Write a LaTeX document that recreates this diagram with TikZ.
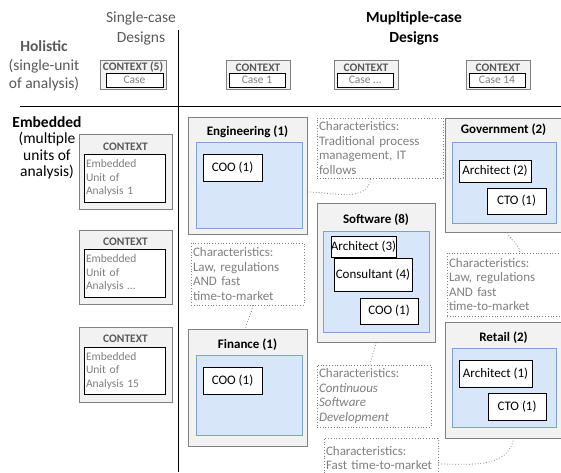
\documentclass[tikz,border=0pt]{standalone}
\usepackage{fontspec}
\setmainfont{Carlito}
\definecolor{ctxgray}{RGB}{242,242,242}
\definecolor{ctxline}{RGB}{128,128,128}
\definecolor{unitblue}{RGB}{216,230,249}
\definecolor{unitline}{RGB}{127,160,214}
\definecolor{notegray}{RGB}{127,127,127}
\definecolor{headgray}{RGB}{89,89,89}
\usetikzlibrary{positioning}

\begin{document}
\begin{tikzpicture}[x=1pt, y=-1pt,
  head/.style={align=center, inner sep=0pt, font=\fontsize{15.5}{20}\selectfont},
  ctxbox/.style={rectangle, draw=ctxline, fill=ctxgray, line width=1pt},
  ctxtag/.style={inner sep=0pt, text=headgray, font=\fontsize{11.5}{12}\selectfont\bfseries},
  casebox/.style={rectangle, draw=black, fill=white, line width=0.8pt, inner sep=0pt,
    text=notegray, font=\fontsize{11.5}{12}\selectfont},
  unitbox/.style={rectangle, draw=black, fill=white, line width=0.8pt, inner sep=2pt,
    align=left, text width=77pt, text=notegray, font=\fontsize{11.5}{13.5}\selectfont},
  sector/.style={rectangle, draw=ctxline, fill=ctxgray, line width=1pt, minimum width=119pt},
  sectitle/.style={inner sep=0pt, font=\fontsize{13}{15}\selectfont\bfseries},
  unitarea/.style={rectangle, draw=unitline, fill=unitblue, line width=0.8pt},
  rolebox/.style={rectangle, draw=black, fill=white, line width=0.8pt, inner sep=0pt,
    font=\fontsize{13}{15}\selectfont},
  note/.style={rectangle, draw=notegray, dotted, line width=0.8pt, inner sep=2pt,
    align=left, text=notegray, font=\fontsize{13}{14.6}\selectfont},
  link/.style={draw=notegray, dotted, line width=0.8pt}
]
\useasboundingbox (0,0) rectangle (561,472);

% axes
\draw[line width=0.9pt] (20,106) -- (561,106);
\draw[line width=0.9pt] (178,30) -- (178,472);

% headings
\node[head, text=headgray] (single) at (141,28) {Single-case\\Designs};
\node[head, font=\fontsize{15.5}{20}\selectfont\bfseries] (multi) at (414,28) {Mupltiple-case\\Designs};
\node[head, text=headgray, font=\fontsize{15.5}{18.5}\selectfont] (holistic) at (44,66)
  {\textbf{Holistic}\\(single-unit\\of analysis)};
\node[head, font=\fontsize{15.5}{16.5}\selectfont] (embedded) at (47,148)
  {\textbf{Embedded}\\(multiple\\units of\\analysis)};

% holistic cases
\node[ctxbox, minimum width=66pt, minimum height=29pt] (ctx5) at (133,74.5) {};
\node[ctxtag] at (133,67.5) {CONTEXT (5)};
\node[casebox, minimum width=57pt, minimum height=14pt] (case5) at (134.5,80) {Case};
\node[ctxbox, minimum width=64pt, minimum height=29pt] (ctx1) at (258,74.5) {};
\node[ctxtag] at (258,67.5) {CONTEXT};
\node[casebox, minimum width=56pt, minimum height=14pt] (case1) at (257,80) {Case 1};
\node[ctxbox, minimum width=64pt, minimum height=29pt] (ctxn) at (366,74.5) {};
\node[ctxtag] at (366,67.5) {CONTEXT};
\node[casebox, minimum width=56pt, minimum height=14pt] (casen) at (365,80) {Case \dots};
\node[ctxbox, minimum width=64pt, minimum height=29pt] (ctx14) at (498,74.5) {};
\node[ctxtag] at (498,67.5) {CONTEXT};
\node[casebox, minimum width=56pt, minimum height=14pt] (case14) at (497,80) {Case 14};

% embedded units
\node[ctxbox, minimum width=93pt, minimum height=75pt] (emb1) at (125.5,171.5) {};
\node[ctxtag] at (125.5,147) {CONTEXT};
\node[unitbox, minimum height=48pt] (unit1) at (124.5,178) {Embedded\\Unit of\\Analysis 1};
\node[ctxbox, minimum width=93pt, minimum height=74pt] (embn) at (125.5,267) {};
\node[ctxtag] at (125.5,242) {CONTEXT};
\node[unitbox, minimum height=48pt] (unitn) at (124.5,273) {Embedded\\Unit of\\Analysis \dots};
\node[ctxbox, minimum width=93pt, minimum height=75pt] (emb15) at (125.5,364.5) {};
\node[ctxtag] at (125.5,339) {CONTEXT};
\node[unitbox, minimum height=47pt] (unit15) at (124.5,370.5) {Embedded\\Unit of\\Analysis 15};

% engineering
\node[sector, minimum height=117pt] (eng) at (247.5,175.5) {};
\node[sectitle] at (247.5,132) {Engineering (1)};
\node[unitarea, minimum width=106pt, minimum height=86pt] (engarea) at (249,185) {};
\node[rolebox, minimum width=59pt, minimum height=27pt] (engcoo) at (232.5,167.5) {COO (1)};

% finance
\node[sector, minimum height=117pt] (fin) at (247.5,387.5) {};
\node[sectitle] at (247.5,345) {Finance (1)};
\node[unitarea, minimum width=106pt, minimum height=80pt] (finarea) at (249,395) {};
\node[rolebox, minimum width=59pt, minimum height=27pt] (fincoo) at (232.5,380.5) {COO (1)};

% software
\node[sector, minimum width=118pt, minimum height=139pt] (soft) at (376,272.5) {};
\node[sectitle] at (376,220) {Software (8)};
\node[unitarea, minimum width=106pt, minimum height=101pt] (softarea) at (376,281.5) {};
\node[rolebox, minimum width=64pt, minimum height=21pt] (softarch) at (363.5,246.5) {Architect (3)};
\node[rolebox, minimum width=78pt, minimum height=33pt] (softcons) at (373,274.5) {Consultant (4)};
\node[rolebox, minimum width=58pt, minimum height=26pt] (softcoo) at (389,311) {COO (1)};

% government
\node[sector, minimum width=117pt, minimum height=114pt] (gov) at (503.5,175) {};
\node[sectitle] at (503.5,130) {Government (2)};
\node[unitarea, minimum width=104pt, minimum height=81pt] (govarea) at (504,182.5) {};
\node[rolebox, minimum width=72pt, minimum height=22pt] (govarch) at (495,171) {Architect (2)};
\node[rolebox, minimum width=59pt, minimum height=26pt] (govcto) at (516.5,201) {CTO (1)};

% retail
\node[sector, minimum width=117pt, minimum height=116pt] (retail) at (503.5,380) {};
\node[sectitle] at (503.5,338) {Retail (2)};
\node[unitarea, minimum width=104pt, minimum height=79pt] (retarea) at (504,387.5) {};
\node[rolebox, minimum width=73pt, minimum height=27pt] (retarch) at (495.5,373.5) {Architect (1)};
\node[rolebox, minimum width=58pt, minimum height=27pt] (retcto) at (517,406.5) {CTO (1)};

% characteristics
\node[note, text width=122pt, minimum height=60pt] (chtrad) at (380,148)
  {Characteristics:\\Traditional process\\management, IT\\follows};
\node[note, text width=109pt, minimum height=62pt] (chlaw) at (247.5,274)
  {Characteristics:\\Law, regulations\\AND fast\\time-to-market};
\node[note, text width=110pt, minimum height=63pt] (chgov) at (504,284.5)
  {Characteristics:\\Law, regulations\\AND fast\\time-to-market};
\node[note, text width=110pt, minimum height=62pt] (chsoft) at (374,396)
  {Characteristics:\\\textit{Continuous}\\\textit{Software}\\\textit{Development}};
\node[note, text width=110pt, minimum height=40pt] (chfast) at (381,458)
  {Characteristics:\\Fast time-to-market};

\draw[link] ([yshift=-16.5pt]eng.east) to[out=0, in=-100] ([xshift=-9pt]chtrad.south);
\draw[link] ([xshift=5pt]chlaw.south) to[out=-95, in=80] ([xshift=-2pt]fin.north);
\draw[link] ([xshift=4pt]gov.south) to[out=-70, in=95] ([xshift=16pt]chgov.north);
\draw[link] (soft.south) to[out=-100, in=80] ([xshift=-4pt]chsoft.north);
\draw[link] ([yshift=-6pt]chfast.east) to[out=0, in=-100] ([xshift=10pt]retail.south);
\end{tikzpicture}
\end{document}
